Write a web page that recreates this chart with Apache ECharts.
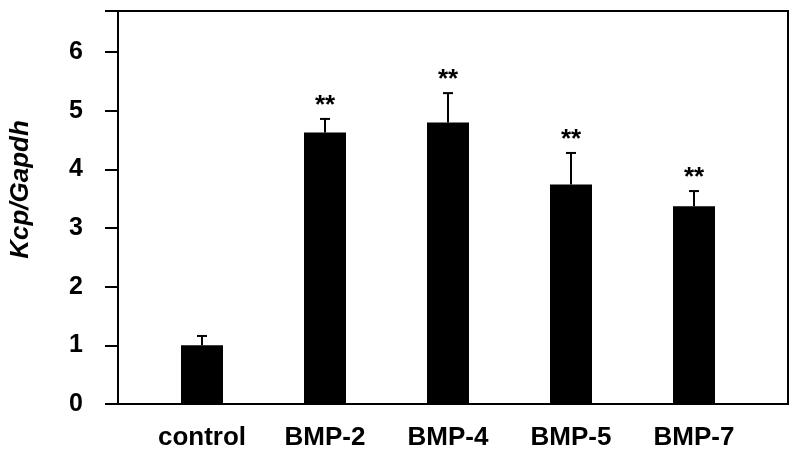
<!DOCTYPE html>
<html>
<head>
<meta charset="utf-8">
<script src="https://cdn.jsdelivr.net/npm/echarts@6/dist/echarts.min.js"></script>
<style>
  html, body { margin: 0; padding: 0; background: #fff; }
  #chart { width: 799px; height: 459px; }
</style>
</head>
<body>
<div id="chart"></div>
<script>
// groups on the x axis
const groups = ['control', 'BMP-2', 'BMP-4', 'BMP-5', 'BMP-7'];
// Kcp/Gapdh mean values
const means = [1.0, 4.63, 4.8, 3.74, 3.37];
// top of the error bars (mean + SD)
const upper = [1.16, 4.86, 5.3, 4.28, 3.63];
// significance marks
const marks = ['', '**', '**', '**', '**'];
// y tick range
const yMin = 0, yMax = 6.7, yStep = 1;

const chart = echarts.init(document.getElementById('chart'));
const font = '"Liberation Sans", Arial, sans-serif';

const option = {
  animation: false,
  grid: [
    // frame box with the y axis
    { left: 117, right: 11, top: 11, bottom: 55, show: true, borderColor: '#000', borderWidth: 2, backgroundColor: 'transparent' },
    // bars grid, narrower so the categories sit like in the figure
    { left: 140.5, right: 43.5, top: 11, bottom: 55 }
  ],
  xAxis: [
    { gridIndex: 0, type: 'value', show: false, min: 0, max: 1 },
    {
      gridIndex: 1, type: 'category', data: groups,
      axisLine: { show: false }, axisTick: { show: false },
      axisLabel: { margin: 21, color: '#000', fontSize: 26, fontWeight: 'bold', fontFamily: font }
    }
  ],
  yAxis: [
    {
      gridIndex: 0, type: 'value', min: yMin, max: yMax, interval: yStep,
      name: 'Kcp/Gapdh', nameLocation: 'middle', nameGap: 84,
      nameTextStyle: { color: '#000', fontSize: 26, fontWeight: 'bold', fontStyle: 'italic', fontFamily: font, padding: [0, 0, 0, 36] },
      axisLine: { show: true, lineStyle: { color: '#000', width: 2 } },
      axisTick: { show: true, length: 13, lineStyle: { color: '#000', width: 2 } },
      axisLabel: {
        margin: 35, color: '#000', fontSize: 25, fontWeight: 'bold', fontFamily: font,
        formatter: v => (v % 1 === 0 ? v : '')
      },
      splitLine: { show: false }
    },
    { gridIndex: 1, type: 'value', min: yMin, max: yMax, show: false, splitLine: { show: false } }
  ],
  series: [
    {
      type: 'bar', xAxisIndex: 1, yAxisIndex: 1,
      data: means, barWidth: 42,
      itemStyle: { color: '#000' }
    },
    {
      type: 'custom', xAxisIndex: 1, yAxisIndex: 1, z: 3,
      data: groups.map((g, i) => [i, means[i], upper[i]]),
      renderItem: function (params, api) {
        const i = api.value(0);
        const p0 = api.coord([i, api.value(1)]);
        const p1 = api.coord([i, api.value(2)]);
        const style = { stroke: '#000', lineWidth: 2 };
        const children = [
          { type: 'line', shape: { x1: p0[0], y1: p0[1], x2: p1[0], y2: p1[1] }, style: style },
          { type: 'line', shape: { x1: p1[0] - 5, y1: p1[1], x2: p1[0] + 5, y2: p1[1] }, style: style }
        ];
        if (marks[i]) {
          children.push({
            type: 'text',
            style: {
              text: marks[i], x: p1[0], y: p1[1] - 13,
              align: 'center', verticalAlign: 'middle',
              fill: '#000', fontSize: 26, fontWeight: 'bold', fontFamily: font
            }
          });
        }
        return { type: 'group', children: children };
      }
    }
  ]
};

chart.setOption(option);
</script>
</body>
</html>
